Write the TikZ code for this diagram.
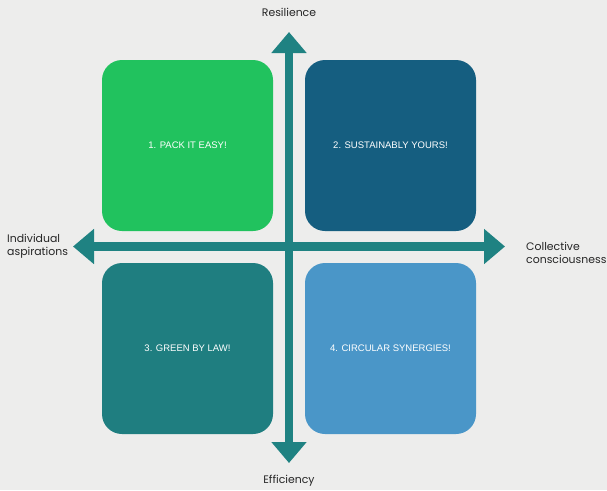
\documentclass[tikz,border=0pt]{standalone}
\usepackage{fontspec}
\setmainfont{Liberation Sans}
\newfontfamily\axisfont{Poppins}
\usetikzlibrary{arrows.meta}
\definecolor{bgGrey}{HTML}{EDEDEC}
\definecolor{axisTeal}{HTML}{1F8282}
\definecolor{boxGreen}{HTML}{21C25E}
\definecolor{boxNavy}{HTML}{155E80}
\definecolor{boxTeal}{HTML}{1F7E80}
\definecolor{boxSky}{HTML}{4A96C8}
\begin{document}
\begin{tikzpicture}[x=1pt,y=-1pt,
  quad/.style={rounded corners=20pt, minimum width=171pt, minimum height=171pt,
    inner sep=0pt, text=white, font=\fontsize{9.5}{11}\selectfont},
  axis/.style={draw=axisTeal, line width=8.5pt,
    {Triangle[width=34pt,length=21pt]}-{Triangle[width=34pt,length=21pt]}},
  axislabel/.style={font=\axisfont\fontsize{10.9}{13.5}\selectfont, text=black!85, inner sep=0pt}]
  % page and background
  \fill[bgGrey] (0,0) rectangle (607,490);
  \useasboundingbox (0,0) rectangle (607,490);
  % quadrant boxes
  \node[quad, fill=boxGreen] (q1) at (187.5,145.5) {1. PACK IT EASY!};
  \node[quad, fill=boxNavy]  (q2) at (390.5,145.5) {2. SUSTAINABLY YOURS!};
  \node[quad, fill=boxTeal]  (q3) at (187.5,348.5) {3. GREEN BY LAW!};
  \node[quad, fill=boxSky]   (q4) at (390.5,348.5) {4. CIRCULAR SYNERGIES!};
  % axis end points
  \coordinate (west)  at (73,246.5);
  \coordinate (east)  at (505,246.5);
  \coordinate (north) at (289,32);
  \coordinate (south) at (289,463);
  \draw[axis] (west) -- (east);
  \draw[axis] (north) -- (south);
  % axis labels
  \node[axislabel] (lnorth) at (289,12) {Resilience};
  \node[axislabel] (lsouth) at (289,481) {Efficiency};
  \node[axislabel, anchor=west, align=left] (lwest) at (7,246.5) {Individual\\aspirations};
  \node[axislabel, anchor=west, align=left] (least) at (526,253) {Collective\\consciousness};
\end{tikzpicture}
\end{document}
